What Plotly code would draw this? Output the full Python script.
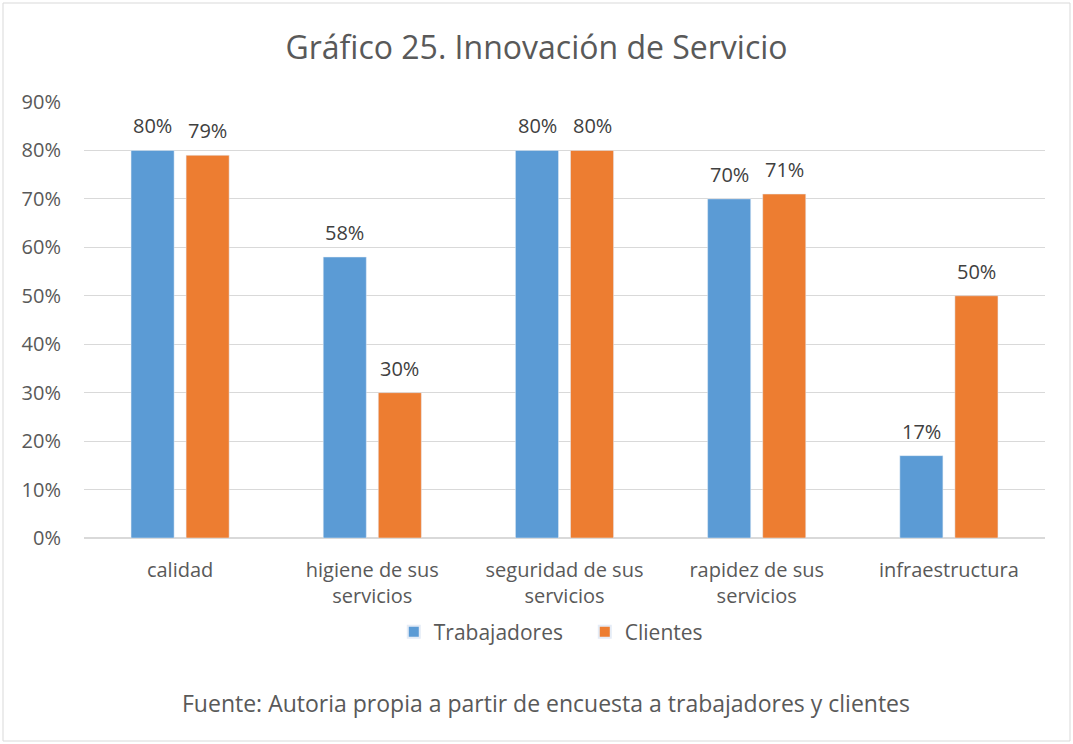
import plotly.graph_objects as go

categories = ["calidad", "higiene de sus<br>servicios", "seguridad de sus<br>servicios",
              "rapidez de sus<br>servicios", "infraestructura"]
trabajadores = [0.80, 0.58, 0.80, 0.70, 0.17]
clientes = [0.79, 0.30, 0.80, 0.71, 0.50]
tick_vals = [0, 0.1, 0.2, 0.3, 0.4, 0.5, 0.6, 0.7, 0.8, 0.9]
tick_text = ["0%", "10%", "20%", "30%", "40%", "50%", "60%", "70%", "80%", "90%"]

FONT = "Open Sans"
GRAY = "#595959"
LABEL = "#404040"

W, H = 1073, 744
L, R, T, B = 84, 28, 102, 206
pw, ph = W - L - R, H - T - B

def px_x(x):
    return (x - L) / pw

def px_y(y):
    return (H - B - y) / ph

fig = go.Figure()
fig.add_trace(go.Bar(name="Trabajadores", x=categories, y=trabajadores,
                     marker_color="#5b9bd5"))
fig.add_trace(go.Bar(name="Clientes", x=categories, y=clientes,
                     marker_color="#ed7d31"))

annotations = []
for series, shift in ((trabajadores, -27.5), (clientes, 27.5)):
    for cat, v in zip(categories, series):
        annotations.append(dict(x=cat, y=v, xref="x", yref="y", text=f"{round(v*100)}%",
                                showarrow=False, xshift=shift, yanchor="bottom", yshift=9,
                                font=dict(size=20, color=LABEL, family=FONT)))

annotations.append(dict(text="Fuente: Autoria propia a partir de encuesta a trabajadores y clientes",
                        xref="paper", yref="paper", x=px_x(546), y=px_y(703),
                        xanchor="center", yanchor="middle", showarrow=False,
                        font=dict(size=23, color=GRAY, family=FONT)))

fig.update_layout(
    width=W, height=H,
    margin=dict(l=L, r=R, t=T, b=B, autoexpand=False),
    paper_bgcolor="white", plot_bgcolor="white",
    barmode="group", bargap=0.427, bargroupgap=0.218,
    font=dict(family=FONT, color=GRAY, size=20),
    title=dict(text="Gráfico 25. Innovación de Servicio", x=0.5, xanchor="center",
               y=1 - 48 / H, yanchor="middle",
               font=dict(size=32, color=GRAY, family=FONT)),
    xaxis=dict(showgrid=False, showline=True, linecolor="#d9d9d9", linewidth=1,
               tickfont=dict(size=20, color=GRAY), ticks="", ticklabelstandoff=14,
               automargin=False),
    yaxis=dict(range=[0, 0.9], tickvals=tick_vals, ticktext=tick_text,
               showgrid=True, gridcolor="#d9d9d9", gridwidth=1,
               zeroline=True, zerolinecolor="#d9d9d9",
               tickfont=dict(size=20, color=GRAY), ticks="", ticklabelstandoff=22,
               automargin=False),
    legend=dict(orientation="h", x=0.545, xanchor="center",
                xref="container", y=1 - 632 / H, yref="container", yanchor="middle",
                font=dict(size=21, color=GRAY), itemwidth=30, itemsizing="constant",
                entrywidth=146, traceorder="normal"),
    shapes=[dict(type="rect", xref="paper", yref="paper",
                 x0=px_x(3), x1=px_x(1070), y0=px_y(741), y1=px_y(3),
                 line=dict(color="#d9d9d9", width=1), fillcolor="rgba(0,0,0,0)")],
    annotations=annotations,
)

fig.write_html("out.html", config={"displayModeBar": False},
               post_script="document.body.style.margin='0';")
